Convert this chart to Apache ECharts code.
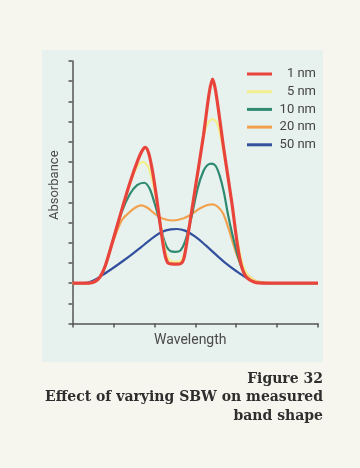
<!DOCTYPE html>
<html>
<head>
<meta charset="utf-8">
<script src="https://cdn.jsdelivr.net/npm/echarts@6/dist/echarts.min.js"></script>
<style>
html,body{margin:0;padding:0;background:#f6f5ee;}
#c{width:360px;height:468px;}
</style>
</head>
<body>
<div id="c"></div>
<script>
// Legend labels (spectral bandwidth)
const seriesNames = ['1 nm', '5 nm', '10 nm', '20 nm', '50 nm'];

// [wavelength, absorbance] pairs (arbitrary units)
const sbw1 = [[0,2],[0.4,2.0],[0.55,2.08],[0.67,2.3],[0.8,2.85],[1.0,4.2],[1.2,5.6],[1.4,6.95],[1.6,8.1],[1.7,8.55],[1.78,8.72],[1.86,8.45],[1.95,7.6],[2.05,6.3],[2.15,4.8],[2.25,3.5],[2.33,3.0],[2.42,2.95],[2.55,2.94],[2.65,2.97],[2.72,3.2],[2.8,4.1],[3.0,6.7],[3.2,9.3],[3.34,11.4],[3.42,12.1],[3.5,11.5],[3.7,8.6],[3.9,5.9],[4.03,3.9],[4.13,2.85],[4.25,2.3],[4.45,2.05],[4.7,2.0],[6,2]];
const sbw5 = [[0,2],[0.4,2.0],[0.55,2.08],[0.67,2.3],[0.8,2.85],[1.0,4.2],[1.2,5.6],[1.42,7.0],[1.58,7.75],[1.72,8.0],[1.84,7.8],[1.96,7.0],[2.08,5.8],[2.2,4.3],[2.3,3.4],[2.4,3.1],[2.55,3.05],[2.66,3.12],[2.75,3.6],[3.0,6.7],[3.18,9.0],[3.3,9.9],[3.42,10.12],[3.54,9.9],[3.7,8.4],[3.9,5.9],[4.05,3.9],[4.17,2.85],[4.3,2.35],[4.5,2.08],[4.8,2.0],[6,2]];
const sbw10 = [[0,2],[0.4,2.0],[0.55,2.08],[0.67,2.3],[0.8,2.85],[1.0,4.2],[1.2,5.5],[1.4,6.4],[1.58,6.85],[1.75,6.97],[1.88,6.7],[2.0,6.0],[2.1,5.3],[2.2,4.4],[2.3,3.8],[2.4,3.58],[2.52,3.55],[2.64,3.62],[2.75,4.05],[2.9,5.2],[3.06,6.7],[3.2,7.55],[3.3,7.85],[3.4,7.92],[3.5,7.8],[3.6,7.3],[3.7,6.5],[3.8,5.4],[3.92,4.3],[4.04,3.35],[4.15,2.7],[4.3,2.25],[4.5,2.05],[4.8,2.0],[6,2]];
const sbw20 = [[0,2],[0.4,2.0],[0.55,2.08],[0.67,2.3],[0.8,2.85],[1.0,4.1],[1.2,5.1],[1.36,5.45],[1.52,5.72],[1.68,5.85],[1.84,5.72],[2.0,5.45],[2.2,5.2],[2.45,5.1],[2.7,5.2],[2.9,5.4],[3.1,5.68],[3.3,5.87],[3.43,5.9],[3.55,5.78],[3.68,5.45],[3.8,4.8],[3.92,4.0],[4.05,3.2],[4.2,2.6],[4.4,2.2],[4.6,2.05],[4.9,2.0],[6,2]];
const sbw50 = [[0,2],[0.3,2.0],[0.5,2.12],[0.75,2.42],[1.0,2.76],[1.25,3.12],[1.5,3.5],[1.75,3.9],[2.0,4.3],[2.2,4.55],[2.4,4.66],[2.55,4.68],[2.75,4.6],[3.0,4.3],[3.25,3.88],[3.5,3.42],[3.75,2.98],[4.0,2.6],[4.25,2.27],[4.5,2.07],[4.75,2.0],[6,2]];

const seriesData = [sbw1, sbw5, sbw10, sbw20, sbw50];
const colors = ['#e8443c', '#f3ef8c', '#2e8a70', '#f2a24e', '#32509e'];
const widths = [3.2, 2.2, 2.2, 2.2, 2.2];
const zs = [7, 6, 5, 4, 3];

const chart = echarts.init(document.getElementById('c'), null, {renderer: 'canvas'});
const axisColor = '#555';
chart.setOption({
  backgroundColor: '#f6f5ee',
  animation: false,
  graphic: [
    {type: 'rect', z: -10, shape: {x: 42, y: 50, width: 281, height: 312}, style: {fill: '#e7f1ee'}},
    {type: 'text', right: 37, top: 372, style: {text: 'Figure 32', font: 'bold 14px "DejaVu Serif"', fill: '#2e2e2e', textAlign: 'right'}},
    {type: 'text', right: 37, top: 390, style: {text: 'Effect of varying SBW on measured', font: 'bold 14px "DejaVu Serif"', fill: '#2e2e2e', textAlign: 'right'}},
    {type: 'text', right: 37, top: 409, style: {text: 'band shape', font: 'bold 14px "DejaVu Serif"', fill: '#2e2e2e', textAlign: 'right'}}
  ],
  grid: {left: 72.5, right: 42, top: 61, bottom: 144.5, containLabel: false},
  legend: {
    orient: 'vertical', left: 247, top: 67.5, padding: 0, itemWidth: 25, itemHeight: 3, itemGap: 4.7,
    icon: 'rect',
    data: seriesNames,
    formatter: n => '{a|' + n + '}',
    textStyle: {fontFamily: 'Roboto', fontSize: 13, color: '#444',
      rich: {a: {width: 39, align: 'right', fontSize: 13, fontFamily: 'Roboto', color: '#444'}}}
  },
  xAxis: {
    type: 'value', min: 0, max: 6, interval: 1,
    name: 'Wavelength', nameLocation: 'middle', nameGap: 10,
    nameTextStyle: {fontFamily: 'Roboto', fontSize: 14, color: '#4a4a4a', padding: [0, 10, 0, 0]},
    axisLine: {show: true, lineStyle: {color: axisColor, width: 1.5}},
    axisTick: {show: true, inside: false, length: 4, lineStyle: {color: axisColor, width: 1.5}},
    axisLabel: {show: false}, splitLine: {show: false}
  },
  yAxis: {
    type: 'value', min: 0, max: 13, interval: 1,
    name: 'Absorbance', nameLocation: 'middle', nameGap: 11, nameRotate: 90,
    nameTextStyle: {fontFamily: 'Roboto', fontSize: 13, color: '#4a4a4a', padding: [0, 0, 0, 14]},
    axisLine: {show: true, lineStyle: {color: axisColor, width: 1.5}},
    axisTick: {show: true, inside: false, length: 4, lineStyle: {color: axisColor, width: 1.5}},
    axisLabel: {show: false}, splitLine: {show: false}
  },
  series: seriesNames.map((n, i) => ({
    name: n, type: 'line', data: seriesData[i], showSymbol: false, symbol: 'none',
    smooth: 0.3, z: zs[i],
    lineStyle: {color: colors[i], width: widths[i]},
    itemStyle: {color: colors[i]}
  }))
});
</script>
</body>
</html>
